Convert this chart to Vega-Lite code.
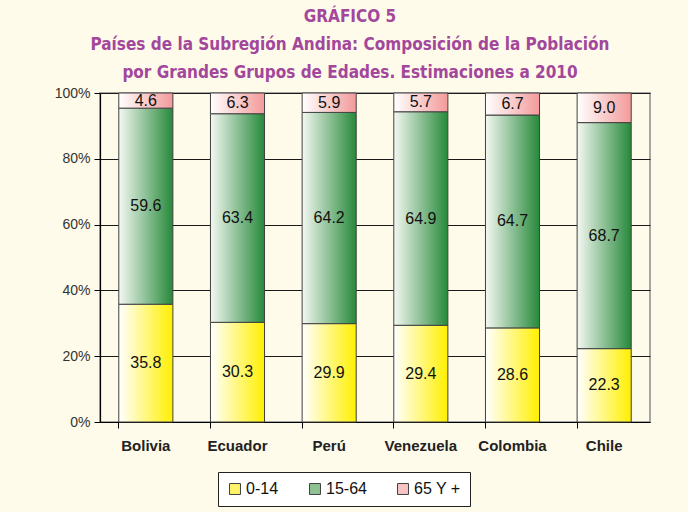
{
  "$schema": "https://vega.github.io/schema/vega-lite/v6.json",
  "width": 550,
  "height": 329,
  "autosize": {"type": "none"},
  "padding": {"left": 100, "top": 93, "right": 38, "bottom": 90},
  "background": "#fffbea",
  "config": {
    "view": {"stroke": "#8c8c8c", "strokeWidth": 1.5},
    "font": "Liberation Sans"
  },
  "title": {
    "text": ["GRÁFICO 5", "Países de la Subregión Andina: Composición de la Población", "por Grandes Grupos de Edades. Estimaciones a 2010"],
    "font": "Liberation Sans Narrow, DejaVu Sans Condensed, Liberation Sans, sans-serif",
    "fontSize": 17,
    "fontWeight": "bold",
    "color": "#a2479c",
    "lineHeight": 28,
    "anchor": "middle",
    "dx": -25,
    "offset": 4
  },
  "data": {
    "values": [
      {"pais": "Bolivia", "grupo": "0-14", "valor": 35.8},
      {"pais": "Bolivia", "grupo": "15-64", "valor": 59.6},
      {"pais": "Bolivia", "grupo": "65 Y +", "valor": 4.6},
      {"pais": "Ecuador", "grupo": "0-14", "valor": 30.3},
      {"pais": "Ecuador", "grupo": "15-64", "valor": 63.4},
      {"pais": "Ecuador", "grupo": "65 Y +", "valor": 6.3},
      {"pais": "Perú", "grupo": "0-14", "valor": 29.9},
      {"pais": "Perú", "grupo": "15-64", "valor": 64.2},
      {"pais": "Perú", "grupo": "65 Y +", "valor": 5.9},
      {"pais": "Venezuela", "grupo": "0-14", "valor": 29.4},
      {"pais": "Venezuela", "grupo": "15-64", "valor": 64.9},
      {"pais": "Venezuela", "grupo": "65 Y +", "valor": 5.7},
      {"pais": "Colombia", "grupo": "0-14", "valor": 28.6},
      {"pais": "Colombia", "grupo": "15-64", "valor": 64.7},
      {"pais": "Colombia", "grupo": "65 Y +", "valor": 6.7},
      {"pais": "Chile", "grupo": "0-14", "valor": 22.3},
      {"pais": "Chile", "grupo": "15-64", "valor": 68.7},
      {"pais": "Chile", "grupo": "65 Y +", "valor": 9.0}
    ]
  },
  "transform": [
    {"stack": "valor", "groupby": ["pais"], "sort": [{"field": "grupo", "order": "ascending"}], "as": ["y0", "y1"]},
    {"calculate": "(datum.y0 + datum.y1) / 2", "as": "mid"}
  ],
  "layer": [
    {
      "mark": {"type": "bar", "strokeWidth": 1, "stroke": "#404040"},
      "encoding": {
        "x": {
          "field": "pais", "type": "nominal", "sort": null,
          "scale": {"paddingInner": 0.41, "paddingOuter": 0.205},
          "axis": {"title": null, "labelAngle": 0, "labelFontWeight": "bold", "labelFontSize": 15, "labelColor": "#222222", "labelPadding": 16, "ticks": false, "domainColor": "#000000", "domainWidth": 1.2}
        },
        "y": {
          "field": "y0", "type": "quantitative",
          "scale": {"domain": [0, 100]},
          "axis": {"title": null, "values": [0, 20, 40, 60, 80, 100], "labelExpr": "datum.value + '%'", "labelFontSize": 14, "labelColor": "#333333", "gridColor": "#1a1a1a", "gridWidth": 1.2, "domainColor": "#000000", "domainWidth": 1.2, "tickColor": "#000000", "tickSize": 6, "labelPadding": 4}
        },
        "y2": {"field": "y1"},
        "fill": {
          "condition": [
            {"test": "datum.grupo === '0-14'", "value": {"gradient": "linear", "x1": 0, "y1": 0, "x2": 1, "y2": 0, "stops": [{"offset": 0, "color": "#ffffff"}, {"offset": 1, "color": "#fff000"}]}},
            {"test": "datum.grupo === '15-64'", "value": {"gradient": "linear", "x1": 0, "y1": 0, "x2": 1, "y2": 0, "stops": [{"offset": 0, "color": "#f4f8f2"}, {"offset": 1, "color": "#26893a"}]}}
          ],
          "value": {"gradient": "linear", "x1": 0, "y1": 0, "x2": 1, "y2": 0, "stops": [{"offset": 0, "color": "#ffffff"}, {"offset": 1, "color": "#f39a9a"}]}
        }
      }
    },
    {
      "mark": {"type": "square", "filled": true, "opacity": 0, "size": 10},
      "encoding": {
        "x": {"field": "pais", "type": "nominal", "sort": null,
          "axis": {"orient": "bottom", "labels": false, "ticks": true, "bandPosition": 0, "domain": false, "tickColor": "#000000", "tickSize": 6, "title": null, "grid": false}},
        "y": {"field": "mid", "type": "quantitative"},
        "color": {
          "field": "grupo", "type": "nominal",
          "scale": {"domain": ["0-14", "15-64", "65 Y +"], "range": ["#fff36a", "#8fc393", "#f8c3c3"]},
          "legend": {
            "title": null, "orient": "none", "direction": "horizontal",
            "legendX": 118, "legendY": 379,
            "symbolType": "square", "symbolSize": 120, "symbolOpacity": 1,
            "symbolStrokeColor": "#404040", "symbolStrokeWidth": 1,
            "labelFontSize": 16, "labelColor": "#111111", "labelOffset": 3,
            "columnPadding": 28,
            "strokeColor": "#222222", "padding": 9, "fillColor": "#ffffff"
          }
        }
      }
    },
    {
      "mark": {"type": "text", "fontSize": 16, "color": "#111111", "baseline": "middle"},
      "encoding": {
        "x": {"field": "pais", "type": "nominal", "sort": null, "axis": null},
        "y": {"field": "mid", "type": "quantitative"},
        "text": {"field": "valor", "type": "quantitative", "format": ".1f"}
      }
    }
  ],
  "resolve": {"axis": {"x": "independent"}}
}
